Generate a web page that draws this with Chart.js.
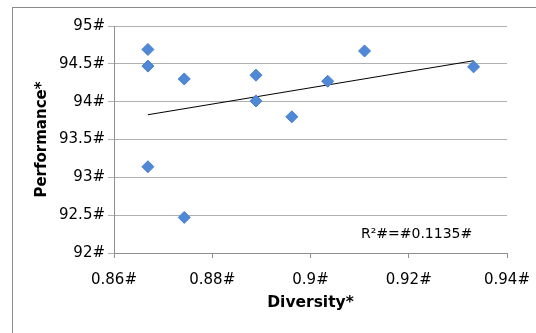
<!DOCTYPE html>
<html>
<head>
<meta charset="utf-8">
<script src="https://cdn.jsdelivr.net/npm/chart.js@4/dist/chart.umd.min.js"></script>
<style>
html,body{margin:0;padding:0;background:#fff;}
#wrap{width:536px;height:333px;position:relative;}
</style>
</head>
<body>
<div id="wrap"><canvas id="c" width="536" height="333"></canvas></div>
<script>
// ---- data ----
const diversity   = [0.8669, 0.8669, 0.8669, 0.8743, 0.8743, 0.8889, 0.8889, 0.8962, 0.9035, 0.9110, 0.9332];
const performance = [94.69, 94.47, 93.14, 94.30, 92.47, 94.35, 94.01, 93.80, 94.27, 94.67, 94.46];
const xTickValues = [0.86, 0.88, 0.90, 0.92, 0.94];
const xTickLabels = ['0.86#', '0.88#', '0.9#', '0.92#', '0.94#'];
const yTickValues = [92, 92.5, 93, 93.5, 94, 94.5, 95];
const yTickLabels = ['92#', '92.5#', '93#', '93.5#', '94#', '94.5#', '95#'];
const xTitle = 'Diversity*';
const yTitle = 'Performance*';
const r2Label = 'R\u00B2#=#0.1135#';

// least-squares trendline from the data
const n = diversity.length;
const mx = diversity.reduce((a,b)=>a+b,0)/n;
const my = performance.reduce((a,b)=>a+b,0)/n;
let sxy=0, sxx=0;
for (let i=0;i<n;i++){ sxy += (diversity[i]-mx)*(performance[i]-my); sxx += (diversity[i]-mx)**2; }
const slope = sxy/sxx, icpt = my - slope*mx;
const xMin = Math.min(...diversity), xMax = Math.max(...diversity);
const trend = [{x:xMin, y:icpt+slope*xMin}, {x:xMax, y:icpt+slope*xMax}];

const points = diversity.map((x,i)=>({x:x, y:performance[i]}));

const frame = {
  id:'frame',
  beforeDraw(chart){
    const ctx = chart.ctx;
    ctx.save();
    ctx.fillStyle='#fff';
    ctx.fillRect(0,0,chart.width,chart.height);
    ctx.strokeStyle='#8a8a8a';
    ctx.lineWidth=1;
    ctx.strokeRect(12.5,7.5,700,500);
    ctx.restore();
  }
};
const r2 = {
  id:'r2',
  afterDatasetsDraw(chart){
    const ctx = chart.ctx, xs = chart.scales.x, ys = chart.scales.y;
    ctx.save();
    ctx.font = '14px "DejaVu Sans"';
    ctx.fillStyle = '#000';
    ctx.textAlign = 'center';
    ctx.textBaseline = 'middle';
    ctx.fillText(r2Label, xs.getPixelForValue(0.9216), ys.getPixelForValue(92.24));
    ctx.restore();
  }
};

const tickFont = {family:'"DejaVu Sans"', size:15};

new Chart(document.getElementById('c'), {
  type:'scatter',
  data:{
    datasets:[
      {
        label:'Performance',
        data:points,
        pointStyle:'rectRot',
        pointRadius:6,
        pointHoverRadius:6,
        backgroundColor:'#4F88D6',
        borderColor:'#4A7FCB',
        borderWidth:1,
        order:1
      },
      {
        type:'line',
        label:'Trend',
        data:trend,
        borderColor:'#000',
        borderWidth:1,
        pointRadius:0,
        fill:false,
        order:2
      }
    ]
  },
  plugins:[frame, r2],
  options:{
    responsive:false,
    animation:false,
    events:[],
    layout:{padding:{left:0, top:26, right:29, bottom:0}},
    plugins:{legend:{display:false}, tooltip:{enabled:false}},
    scales:{
      x:{
        type:'linear',
        min:0.86, max:0.94,
        afterFit(s){ s.height = 80; s.paddingLeft = 0; s.paddingRight = 0; },
        afterBuildTicks(s){ s.ticks = xTickValues.map(v=>({value:v})); },
        ticks:{
          color:'#000', font:tickFont, padding:13, maxRotation:0, autoSkip:false,
          callback:(v,i)=>xTickLabels[i]
        },
        grid:{display:true, drawOnChartArea:false, drawTicks:true, tickLength:5, color:'#8f8f8f'},
        border:{display:true, color:'#8f8f8f'},
        title:{display:true, text:xTitle, color:'#000',
          font:{family:'"DejaVu Sans"', size:15.5, weight:'bold'},
          padding:{top:4, bottom:21}}
      },
      y:{
        type:'linear',
        min:92, max:95,
        afterFit(s){ s.width = 114; s.paddingTop = 0; s.paddingBottom = 0; },
        afterBuildTicks(s){ s.ticks = yTickValues.map(v=>({value:v})); },
        ticks:{
          color:'#000', font:tickFont, padding:3, autoSkip:false,
          callback:(v,i)=>yTickLabels[i]
        },
        grid:{display:true, drawOnChartArea:true, drawTicks:true, tickLength:6, color:'#b0b0b0'},
        border:{display:true, color:'#8f8f8f'},
        title:{display:true, text:yTitle, color:'#000',
          font:{family:'"DejaVu Sans"', size:15, weight:'bold'},
          padding:{top:33, bottom:4}}
      }
    }
  }
});
</script>
</body>
</html>
